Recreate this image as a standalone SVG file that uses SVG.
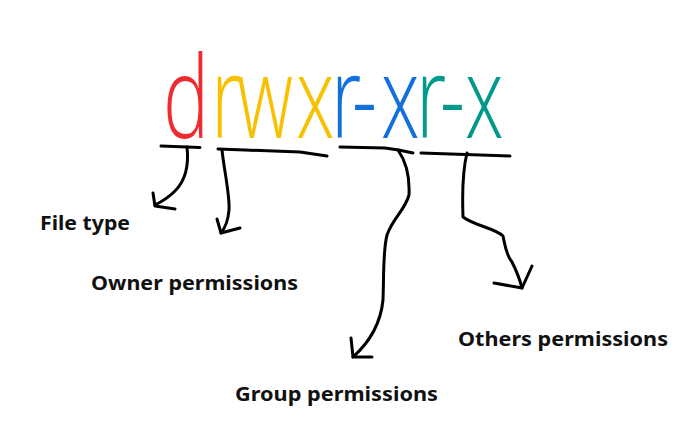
<svg xmlns="http://www.w3.org/2000/svg" width="700" height="432" viewBox="0 0 700 432">
<style>
.big{font-family:"Open Sans","DejaVu Sans",sans-serif;font-weight:300;font-size:114px}
.lbl{font-family:"Noto Sans","Liberation Sans",sans-serif;font-weight:700;font-size:20px;fill:#111}
.red{fill:#ee2b2e}.yel{fill:#f7c000}.blu{fill:#126fdc}.tea{fill:#00998a}
.ink{fill:none;stroke:#000;stroke-width:3;stroke-linecap:round;stroke-linejoin:round}
</style>
<rect width="700" height="432" fill="#fff"/>
<g id="perm-string">
<text class="big" y="138" transform="scale(0.68,1)"><tspan class="red" x="239.7">d</tspan><tspan class="yel" x="310.3">r</tspan><tspan class="yel" x="348.5">w</tspan><tspan class="yel" x="435.3">x</tspan><tspan class="blu" x="486.8">r</tspan><tspan class="blu" x="517.7">-</tspan><tspan class="blu" x="560.3">x</tspan><tspan class="tea" x="611.8">r</tspan><tspan class="tea" x="647">-</tspan><tspan class="tea" x="683.8">x</tspan></text>
</g>
<g id="connectors">
<path class="ink" d="M161 146 L200 147.5"/>
<path class="ink" d="M187 147 C189 165 186 180 175 191 C168 198 161 202 155 205"/>
<path class="ink" d="M153 193 L155 206 L175 209"/>
<path class="ink" d="M218 149 L245 150 L300 152 L327 156"/>
<path class="ink" d="M222 150 C224 170 230 195 229 210 C228 222 225 228 221 233"/>
<path class="ink" d="M217 219 L221 233 L240 228"/>
<path class="ink" d="M340 147 L385 148 C395 149 405 151 413 153"/>
<path class="ink" d="M398 150 C405 160 410 175 409 195 C405 210 393 218 387 235 C383 250 384 270 383 300 C381 320 372 340 353 357"/>
<path class="ink" d="M351 338 L353 357 L372 357"/>
<path class="ink" d="M421 153 L510 156"/>
<path class="ink" d="M467 153 C464 165 462 190 463 217 C475 226 495 228 503 236 C505 245 506 255 512 262 C517 272 520 280 522 288"/>
<path class="ink" d="M532 266 L522 288 L494 283"/>
</g>
<g id="file-type"><text class="lbl" x="40" y="230" textLength="90" lengthAdjust="spacingAndGlyphs">File type</text></g>
<g id="owner"><text class="lbl" x="91" y="290" textLength="207" lengthAdjust="spacingAndGlyphs">Owner permissions</text></g>
<g id="others"><text class="lbl" x="458" y="346" textLength="210" lengthAdjust="spacingAndGlyphs">Others permissions</text></g>
<g id="group"><text class="lbl" x="235" y="401" textLength="203" lengthAdjust="spacingAndGlyphs">Group permissions</text></g>
</svg>
